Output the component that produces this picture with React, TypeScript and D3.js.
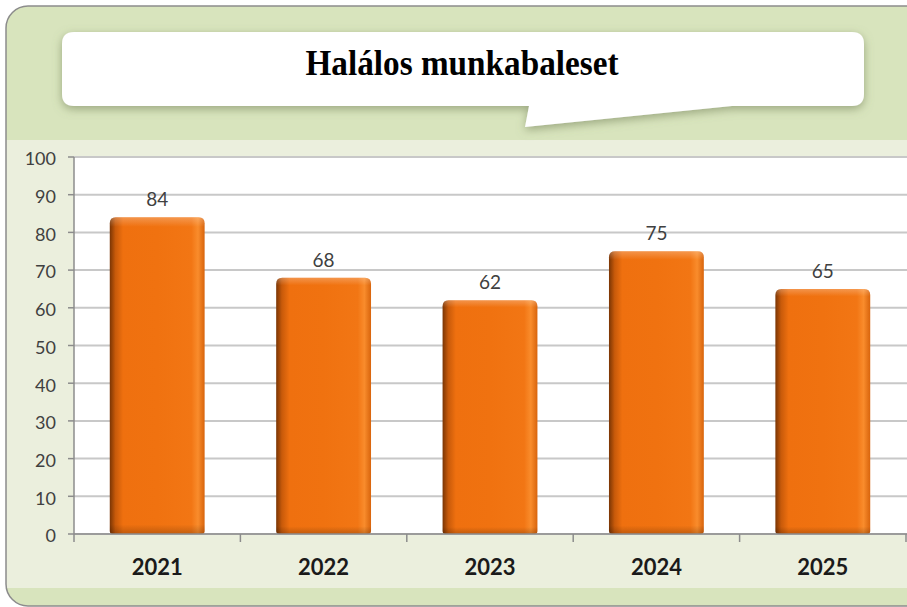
import React from "react";
import * as d3 from "d3";

const categories = ["2021", "2022", "2023", "2024", "2025"];
const values = [84, 68, 62, 75, 65];
const yTicks = [0, 10, 20, 30, 40, 50, 60, 70, 80, 90, 100];
const title = "Halálos munkabaleset";

export default function App() {
  const W = 907, H = 607;
  const left = 74, right = 906, top = 157, bottom = 534;
  const x = d3.scaleBand<string>().domain(categories).range([left, right]).paddingInner(0.43).paddingOuter(0.215);
  const xTickScale = d3.scaleBand<string>().domain(categories).range([left, right]);
  const y = d3.scaleLinear().domain([0, 100]).range([bottom, top]);
  const r = 6;
  const barPath = (x0: number, y0: number, w: number, h: number) => {
    const y1 = y0 + h;
    return `M${x0},${y1 - 3} L${x0},${y0 + r} Q${x0},${y0} ${x0 + r},${y0} L${x0 + w - r},${y0} Q${x0 + w},${y0} ${x0 + w},${y0 + r} L${x0 + w},${y1 - 3} Q${x0 + w},${y1} ${x0 + w - 3},${y1} L${x0 + 3},${y1} Q${x0},${y1} ${x0},${y1 - 3} Z`;
  };
  return (
    <svg width={W} height={H} style={{ position: "absolute", left: 0, top: 0 }}>
      <defs>
        <linearGradient id="barH" x1="0" x2="1" y1="0" y2="0">
          <stop offset="0" stopColor="#7a3504" />
          <stop offset="0.06" stopColor="#c85a0a" />
          <stop offset="0.14" stopColor="#ef700f" />
          <stop offset="0.5" stopColor="#f07210" />
          <stop offset="0.86" stopColor="#f27614" />
          <stop offset="0.93" stopColor="#f98c2c" />
          <stop offset="1" stopColor="#d8640c" />
        </linearGradient>
        <linearGradient id="barV" x1="0" x2="0" y1="0" y2="1">
          <stop offset="0" stopColor="#ffffff" stopOpacity="0.25" />
          <stop offset="0.03" stopColor="#ffffff" stopOpacity="0" />
          <stop offset="0.97" stopColor="#000000" stopOpacity="0" />
          <stop offset="1" stopColor="#000000" stopOpacity="0.2" />
        </linearGradient>
        <filter id="boxShadow" x="-10%" y="-30%" width="120%" height="170%">
          <feDropShadow dx="0" dy="3" stdDeviation="5" floodColor="#6f7f55" floodOpacity="0.6" />
        </filter>
        <clipPath id="panelClip">
          <rect x={6} y={6} width={940} height={600} rx={22} ry={22} />
        </clipPath>
      </defs>
      <g clipPath="url(#panelClip)">
        <rect x={6} y={6} width={940} height={600} fill="#d8e4bd" />
        <rect x={6} y={140} width={940} height={448} fill="#ebefdd" />
        <rect x={left} y={top} width={right - left + 10} height={bottom - top} fill="#ffffff" />
      </g>
      <rect x={6} y={6} width={940} height={600} rx={22} ry={22} fill="none" stroke="#8c8c8c" strokeWidth={1.5} />

      {/* callout */}
      <g filter="url(#boxShadow)">
        <path d={`M${74},32 L${852},32 Q${864},32 ${864},44 L${864},94 Q${864},106 ${852},106 L${732},106 L${525},127 L${529},106 L${74},106 Q${62},106 ${62},94 L${62},44 Q${62},32 ${74},32 Z`} fill="#ffffff" />
      </g>
      <text x={462} y={75} textAnchor="middle" textLength={313} lengthAdjust="spacingAndGlyphs" fontFamily="'Liberation Serif', 'Times New Roman', serif" fontWeight="bold" fontSize={35} fill="#000">{title}</text>

      {/* gridlines */}
      {yTicks.map(t => (
        <line key={t} x1={left} x2={W} y1={y(t)} y2={y(t)} stroke="#c8c8c8" strokeWidth={2} />
      ))}
      {/* y axis */}
      <line x1={left} x2={left} y1={top} y2={bottom} stroke="#8c8c8c" strokeWidth={1.5} />
      {yTicks.map(t => (
        <g key={"yt" + t}>
          <line x1={left - 6} x2={left} y1={y(t)} y2={y(t)} stroke="#8c8c8c" strokeWidth={1.5} />
          <text x={56} y={y(t) + 2} dy="0.35em" textAnchor="end" fontFamily="Lato, 'Open Sans', sans-serif" fontSize={18} fill="#404040">{t}</text>
        </g>
      ))}
      {/* bars */}
      {categories.map((c, i) => {
        const x0 = x(c)!;
        const w = x.bandwidth();
        const y0 = y(values[i]);
        const h = bottom - y0;
        return (
          <g key={c}>
            <path d={barPath(x0, y0, w, h)} fill="url(#barH)" />
            <path d={barPath(x0, y0, w, h)} fill="url(#barV)" />
            <text x={x0 + w / 2} y={y0 - 11} textAnchor="middle" fontFamily="Lato, 'Open Sans', sans-serif" fontSize={19} fill="#404040">{values[i]}</text>
          </g>
        );
      })}
      {/* x axis */}
      <line x1={left} x2={W} y1={bottom} y2={bottom} stroke="#8c8c8c" strokeWidth={1.5} />
      {categories.map(c => (
        <line key={"xt" + c} x1={xTickScale(c)!} x2={xTickScale(c)!} y1={bottom} y2={bottom + 8} stroke="#8c8c8c" strokeWidth={1.5} />
      ))}
      <line x1={right} x2={right} y1={bottom} y2={bottom + 8} stroke="#8c8c8c" strokeWidth={1.5} />
      {categories.map(c => (
        <text key={"xl" + c} x={x(c)! + x.bandwidth() / 2} y={575} textAnchor="middle" fontFamily="Lato, 'Open Sans', sans-serif" fontWeight="bold" fontSize={22} fill="#1a1a1a">{c}</text>
      ))}
    </svg>
  );
}
